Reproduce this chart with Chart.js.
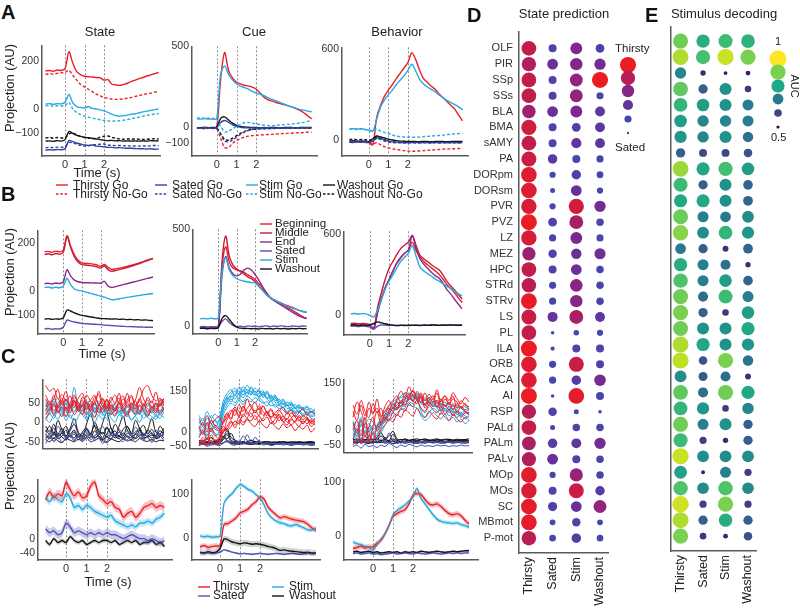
<!DOCTYPE html>
<html><head><meta charset="utf-8">
<script src="https://cdn.jsdelivr.net/npm/chart.js@4.4.1/dist/chart.umd.min.js"></script>
<style>
html,body{margin:0;padding:0;background:#fff;}
#root{position:relative;width:800px;height:609px;overflow:hidden;background:#fff;}
#root canvas{position:absolute;}
.t{position:absolute;white-space:nowrap;color:#222;}
</style></head><body><div id="root"></div>
<script>
// ---------------- DATA ----------------
const tAxis = [-1,-0.8,-0.6,-0.4,-0.2,0,0.2,0.4,0.6,0.8,1,1.2,1.4,1.6,1.8,2,2.2,2.4,2.6,2.8,3,3.2,3.4,3.6,3.8,4,4.2,4.4,4.6,4.8];
const markTimes = [0, 1, 2];

// Panel A - State
const aStateThirstyGo   = [158,160,157,162,160,168,238,190,155,143,136,134,133,131,130,120,122,104,100,98,102,107,115,120,126,131,137,142,147,152];
const aStateThirstyNoGo = [143,147,145,148,150,152,160,140,120,102,92,82,72,62,54,48,44,41,40,40,42,45,48,52,56,60,63,66,70,73];
const aStateSatedGo     = [-172,-170,-171,-169,-170,-166,-132,-136,-142,-146,-150,-152,-150,-155,-156,-158,-160,-160,-162,-161,-163,-164,-164,-165,-166,-166,-167,-166,-168,-167];
const aStateSatedNoGo   = [-162,-160,-161,-159,-160,-156,-140,-141,-147,-152,-155,-154,-150,-149,-147,-146,-150,-152,-153,-152,-154,-153,-155,-154,-155,-154,-155,-153,-152,-154];
const aStateStimGo      = [20,22,19,22,21,28,60,25,10,6,4,10,2,0,-4,-8,-14,-22,-28,-30,-28,-26,-22,-20,-16,-12,-9,-6,-3,-1];
const aStateStimNoGo    = [12,14,11,13,12,14,28,0,-15,-24,-30,-34,-38,-42,-45,-48,-50,-51,-50,-49,-47,-44,-41,-37,-34,-30,-27,-24,-21,-19];
const aStateWashGo      = [-134,-133,-135,-132,-134,-128,-94,-102,-110,-114,-118,-120,-122,-125,-128,-130,-132,-131,-133,-132,-134,-133,-134,-133,-134,-133,-134,-132,-133,-132];
const aStateWashNoGo    = [-121,-118,-122,-119,-121,-120,-104,-100,-108,-115,-119,-121,-124,-122,-118,-114,-113,-118,-123,-125,-126,-125,-126,-125,-126,-127,-126,-125,-124,-125];
// Panel A - Cue
const aCueThirstyGo   = [-4,-3,-5,-4,-3,-2,300,462,350,305,280,268,260,255,248,235,212,185,170,162,153,146,140,134,126,115,104,90,70,52];
const aCueThirstyNoGo = [-8,-6,-9,-7,-8,-10,-70,-125,-125,-100,-82,-70,-60,-55,-52,-50,-48,-46,-45,-44,-42,-40,-39,-38,-37,-35,-34,-33,-31,-30];
const aCueSatedGo     = [-5,-6,-4,-5,-6,-2,30,42,30,15,6,0,-3,-4,-5,-4,-5,-4,-3,-5,-4,-3,-4,-5,-3,-4,-5,-3,-4,-3];
const aCueSatedNoGo   = [-5,-6,-4,-5,-6,-8,-45,-85,-90,-78,-62,-45,-30,-20,-14,-10,-9,-8,-8,-7,-7,-6,-6,-5,-5,-5,-4,-5,-4,-4];
const aCueStimGo      = [52,50,54,51,50,52,330,380,325,292,268,255,245,236,222,212,204,195,182,172,163,153,144,133,126,118,110,106,100,96];
const aCueStimNoGo    = [55,60,53,56,54,50,5,-28,-25,-10,5,18,28,30,25,20,15,12,10,10,12,14,16,18,20,22,26,30,36,42];
const aCueWashGo      = [-2,-3,-1,-3,-2,2,55,64,45,25,12,5,2,0,-1,-2,-3,-2,-3,-1,-2,-3,-2,-1,-2,-3,-2,-1,-2,-1];
const aCueWashNoGo    = [-3,-4,-2,-3,-4,-5,-40,-75,-80,-68,-52,-38,-26,-18,-13,-12,-10,-9,-8,-8,-7,-7,-6,-6,-6,-5,-5,-5,-5,-5];
// Panel A - Behavior
const aBehThirstyGo   = [-10,-12,-8,-11,-9,-15,-30,150,230,290,330,365,405,440,475,512,575,530,460,405,380,355,335,305,280,255,230,205,165,128];
const aBehThirstyNoGo = [-12,-10,-14,-11,-13,-18,-25,-15,-30,-42,-50,-56,-60,-64,-68,-70,-72,-71,-70,-68,-66,-64,-62,-60,-58,-57,-56,-55,-54,-53];
const aBehSatedGo     = [-12,-14,-10,-13,-11,-15,-5,15,12,5,-5,-10,-13,-14,-15,-16,-15,-14,-16,-15,-14,-16,-15,-14,-15,-16,-14,-15,-16,-15];
const aBehSatedNoGo   = [-5,-3,-6,-4,-5,-8,-2,12,5,-5,-12,-15,-17,-16,-18,-17,-16,-18,-17,-16,-18,-17,-16,-18,-17,-16,-18,-17,-16,-17];
const aBehStimGo      = [75,77,74,76,72,65,60,140,220,265,300,330,365,395,425,460,500,455,400,370,350,335,320,298,280,262,248,235,220,200];
const aBehStimNoGo    = [72,75,70,74,70,68,62,75,60,52,45,35,28,24,22,20,21,20,22,24,26,28,30,32,34,37,40,42,44,45];
const aBehWashGo      = [-5,-3,-6,-4,-5,-8,10,28,22,15,8,2,-2,-5,-6,-8,-7,-8,-9,-7,-8,-9,-8,-7,-8,-9,-8,-7,-8,-7];
const aBehWashNoGo    = [5,8,3,6,4,0,8,20,12,2,-6,-10,-12,-13,-12,-14,-13,-12,-14,-13,-12,-14,-13,-12,-13,-14,-12,-13,-14,-13];

// Panel B
const bStateBeginning = [163,165,161,166,163,170,230,185,150,128,117,115,114,112,108,103,110,98,90,92,95,98,102,106,110,115,120,126,131,136];
const bStateMiddle    = [152,155,151,156,153,160,228,180,142,120,110,108,106,104,100,95,104,88,82,85,89,93,97,102,107,112,118,124,130,135];
const bStateEnd       = [30,32,29,33,31,38,88,62,45,38,35,34,34,33,33,32,40,20,14,18,22,26,30,34,38,42,46,50,54,58];
const bStateSated     = [-159,-157,-160,-158,-159,-152,-122,-126,-130,-133,-136,-137,-138,-139,-140,-141,-143,-144,-145,-146,-147,-148,-149,-149,-150,-151,-151,-152,-152,-152];
const bStateStim      = [14,16,12,15,13,20,52,25,8,2,0,-5,-9,-13,-18,-22,-26,-32,-37,-36,-33,-30,-27,-25,-22,-20,-17,-15,-13,-11];
const bStateWashout   = [-118,-116,-119,-117,-118,-112,-80,-85,-92,-98,-102,-105,-108,-110,-113,-115,-116,-117,-118,-117,-119,-118,-120,-119,-121,-120,-122,-121,-123,-124];
const bCueBeginning = [-7,-5,-8,-6,-7,-5,300,410,330,300,291,285,278,265,255,241,220,200,175,150,138,128,120,112,105,98,90,82,76,72];
const bCueMiddle    = [-10,-8,-11,-9,-10,-6,330,465,360,315,295,282,270,255,245,230,208,188,165,148,135,124,114,104,94,84,72,60,48,39];
const bCueEnd       = [-8,-6,-9,-7,-8,-5,260,360,300,270,260,268,290,300,290,266,238,205,175,150,135,122,110,98,86,74,62,52,45,42];
const bCueSated     = [-3,-1,-4,-2,-3,0,25,38,20,5,-2,0,-3,2,-1,1,-3,0,2,-2,1,-1,2,0,-2,1,0,-1,1,0];
const bCueStim      = [39,40,38,41,39,42,280,355,290,260,245,238,232,228,225,224,205,185,165,150,138,128,118,108,100,95,88,82,76,72];
const bCueWashout   = [-12,-10,-13,-11,-12,-8,40,55,35,12,-5,-10,-12,-11,-13,-12,-14,-11,-13,-12,-14,-11,-13,-12,-14,-12,-13,-11,-13,-12];
const bBehBeginning = [-72,-70,-74,-71,-73,-78,-95,30,130,210,266,330,385,425,460,483,543,480,435,400,375,352,330,305,270,230,200,170,130,96];
const bBehMiddle    = [-60,-58,-62,-59,-61,-70,-97,60,170,270,350,400,450,495,520,543,592,520,447,420,399,375,355,338,300,254,220,190,155,121];
const bBehEnd       = [-75,-73,-77,-74,-76,-80,-100,20,120,200,266,330,390,430,460,483,592,500,420,380,350,320,295,278,240,193,160,120,85,48];
const bBehSated     = [-80,-78,-82,-79,-81,-85,-100,-80,-70,-72,-75,-73,-76,-74,-72,-75,-73,-71,-74,-70,-72,-68,-71,-73,-70,-72,-69,-71,-70,-72];
const bBehStim      = [12,14,10,13,11,0,-12,40,120,200,254,300,350,400,430,459,519,440,360,330,310,290,270,254,235,217,200,180,162,145];
const bBehWashout   = [-72,-70,-74,-71,-73,-70,-60,-48,-55,-62,-68,-72,-74,-73,-75,-72,-74,-73,-75,-72,-74,-73,-71,-74,-72,-73,-71,-72,-74,-72];

// Panel C top - single-session traces
const cStateRed = [
 [95,80,88,60,72,55,68,40,62,75,50,58,70,45,62,38,55,70,48,60,52,66,42,58,85,95,70,55,62,50],
 [40,55,30,48,62,35,50,70,45,30,52,40,65,48,35,58,42,30,55,68,40,50,35,62,45,58,38,50,42,55],
 [20,35,48,25,40,15,38,52,28,45,20,35,50,25,42,55,30,18,40,28,50,35,22,45,30,15,38,25,48,30],
 [60,45,70,38,55,80,42,58,35,65,48,30,55,72,40,60,35,50,62,45,75,40,58,90,60,42,55,35,48,62],
 [10,28,45,30,15,40,25,55,35,20,48,30,12,38,25,45,20,35,50,28,15,40,30,22,45,35,25,50,20,38],
 [70,50,62,85,45,60,38,65,52,40,70,55,45,80,50,35,65,48,75,40,58,70,45,55,40,65,50,78,45,60],
 [30,48,20,40,55,28,45,20,38,58,32,48,25,42,60,30,45,28,52,35,20,45,55,30,48,25,40,30,58,42]];
const cStateCyan = [
 [50,35,60,42,30,55,45,90,40,52,35,48,30,55,40,28,45,35,50,25,40,32,45,28,38,50,30,42,55,60],
 [20,38,25,45,30,15,40,28,50,35,20,42,30,18,35,25,40,22,30,15,28,35,20,30,25,15,28,20,32,25],
 [35,20,42,28,50,35,25,40,30,45,28,15,38,25,42,30,20,35,25,40,22,30,18,28,35,20,30,15,25,35],
 [5,22,10,30,18,35,12,25,40,20,8,28,15,35,22,10,25,15,30,12,20,5,18,25,10,22,15,8,20,12],
 [45,30,55,25,40,60,35,48,28,42,55,38,25,45,32,50,28,40,35,22,45,30,38,20,35,28,42,30,25,40],
 [28,45,18,38,25,48,30,55,35,22,40,28,50,32,18,42,30,48,20,35,28,40,25,45,30,18,35,45,28,50],
 [10,0,18,8,25,5,20,-5,15,30,10,22,0,18,8,28,12,0,20,10,25,8,15,0,22,12,5,18,10,28],
 [55,40,48,62,35,50,42,58,30,48,40,55,35,45,28,40,52,30,45,38,25,48,35,42,30,50,38,25,45,55]];
const cStateBlue = [
 [-45,-30,-50,-38,-25,-42,-35,-48,-30,-40,-20,-45,-35,-28,-42,-50,-32,-40,-25,-38,-45,-30,-42,-35,-28,-40,-48,-35,-30,-42],
 [-55,-40,-48,-35,-52,-42,-30,-45,-38,-50,-40,-32,-48,-40,-55,-38,-45,-30,-42,-50,-35,-48,-40,-30,-45,-38,-52,-40,-35,-48],
 [-30,-20,-35,-10,-28,-38,-22,-5,-30,-40,-15,-28,-35,-20,-10,-32,-25,-40,-18,-30,-22,-35,-12,-28,-38,-25,-30,-20,-35,-28]];
const cStateBlack = [
 [-40,-35,-42,-30,-38,-45,-35,-40,-32,-42,-38,-30,-40,-35,-45,-38,-32,-40,-36,-42,-35,-40,-30,-38,-42,-35,-40,-38,-32,-40],
 [-25,-10,-30,5,-20,-35,-15,10,-25,-35,-5,20,-10,-30,0,25,-15,-35,-10,15,-20,-30,5,-15,-35,-20,10,-25,-30,-15],
 [-45,-50,-40,-48,-52,-42,-46,-50,-44,-48,-40,-50,-46,-42,-48,-52,-44,-47,-50,-43,-48,-45,-50,-42,-47,-49,-44,-50,-46,-48],
 [-20,-30,-15,-35,-25,-10,-30,-20,-38,-25,-15,-32,0,-20,-30,-12,-28,-22,-35,-18,-10,-30,-25,-15,-32,-20,-28,-35,-22,-30],
 [-35,-42,-30,-38,-28,-40,-34,-25,-38,-44,-30,-36,-40,-32,-26,-38,-42,-30,-35,-40,-28,-36,-42,-34,-30,-38,-33,-41,-36,-32],
 [-30,-40,-25,-42,-35,-20,-38,-30,-45,-28,-35,-40,-22,-38,-45,-30,-15,-35,-42,-28,-38,-45,-30,-20,-40,-35,-28,-42,-38,-25],
 [-10,-25,-5,-30,-15,-35,-20,-5,-28,-38,-18,-30,-8,-25,-40,-15,-30,-5,-22,-35,-12,-28,-40,-20,-8,-30,-18,-35,-10,-25]];
const cCueRed = [
 [-40,-20,-45,-10,-30,-20,40,70,50,85,60,90,75,55,80,60,95,70,50,65,40,58,35,50,62,45,30,50,38,45],
 [10,30,0,45,20,5,30,55,80,60,100,75,120,90,70,85,60,75,55,70,80,60,45,70,55,40,60,48,35,50],
 [-50,-35,-48,-30,-45,-40,0,20,40,25,55,35,50,70,45,60,40,55,30,45,60,35,50,25,40,55,30,45,20,35],
 [50,25,60,30,45,55,35,65,45,80,55,95,65,85,110,80,95,70,85,60,75,90,65,80,55,70,85,60,75,65],
 [-20,5,-30,15,-10,-25,20,10,35,15,40,25,45,30,20,40,25,15,35,20,10,30,15,25,5,20,10,25,0,15],
 [20,-10,35,0,25,10,-5,45,70,90,75,55,85,100,70,95,75,60,80,50,65,45,70,55,35,60,45,55,30,40],
 [-35,-45,-20,-40,-30,-45,10,5,20,40,30,65,50,40,60,35,50,70,45,30,55,40,25,45,35,20,40,30,45,25]];
const cCueCyan = [
 [30,50,20,60,40,35,110,140,155,130,165,145,170,150,135,155,125,140,115,125,100,115,95,105,85,95,80,90,70,85],
 [0,20,-10,25,10,5,80,115,130,120,140,125,145,135,150,125,140,120,130,110,95,105,85,90,75,80,65,75,60,70],
 [60,40,75,50,65,55,95,125,110,135,120,150,130,160,140,130,145,120,110,125,105,90,100,80,90,70,85,65,75,60],
 [-20,0,-15,10,-5,-10,70,100,120,105,125,110,130,120,105,125,110,95,115,90,100,80,70,85,65,75,55,65,50,45],
 [20,35,10,40,25,15,90,130,145,160,140,165,150,140,160,145,130,150,125,135,110,120,100,110,90,100,85,95,75,80],
 [40,20,50,30,15,45,100,120,135,150,135,155,140,165,145,150,135,145,120,130,115,100,110,95,100,85,90,80,85,70],
 [-10,10,-25,5,-15,0,60,90,105,95,115,100,120,110,125,115,105,110,95,100,85,90,75,80,70,75,60,65,55,60],
 [15,-5,30,10,45,20,85,110,125,140,150,135,155,145,135,140,150,125,135,115,120,105,95,100,85,90,80,70,75,65]];
const cCueBlue = [
 [-45,-40,-48,-42,-46,-44,-40,-35,-42,-30,-38,-15,-30,-40,-20,-35,-42,-38,-44,-40,-46,-42,-45,-40,-44,-42,-46,-43,-45,-42],
 [-50,-45,-52,-48,-46,-50,-42,-30,-45,-48,-40,-44,-10,-35,-45,-30,-48,-44,-50,-46,-42,-48,-45,-50,-46,-44,-48,-46,-50,-47],
 [-40,-30,-45,-35,-42,-38,-25,-5,-30,-40,-35,-42,-38,-44,-40,-36,-42,-45,-40,-44,-42,-40,-44,-42,-46,-44,-42,-45,-43,-44]];
const cCueBlack = [
 [-40,-42,-38,-41,-39,-40,-30,-10,-35,-38,-40,-42,-39,-41,-40,-38,-41,-40,-42,-39,-41,-40,-38,-41,-40,-42,-40,-39,-41,-40],
 [-35,-30,-38,-20,-36,-32,0,10,-20,-30,-35,-38,-36,-30,-35,-38,-36,-35,-37,-36,-38,-35,-37,-36,-38,-35,-37,-36,-35,-38],
 [-45,-44,-46,-43,-45,-44,-40,-35,-42,-44,-45,-43,-44,-46,-44,-45,-43,-44,-46,-45,-44,-43,-45,-44,-46,-44,-45,-43,-44,-45],
 [-30,-38,-25,-40,-33,-28,-15,-25,-5,-30,-38,-35,-40,-30,-38,-35,-40,-36,-38,-40,-35,-38,-40,-37,-39,-38,-40,-38,-37,-39],
 [-42,-38,-44,-40,-43,-41,-20,-30,-38,-42,-40,-38,-41,-43,-39,-42,-40,-41,-43,-40,-42,-39,-41,-43,-40,-42,-41,-39,-42,-40],
 [-38,-40,-35,-39,-37,-36,-25,5,-30,-35,-38,-40,-37,-39,-36,-40,-38,-37,-39,-38,-40,-37,-39,-38,-36,-39,-38,-40,-37,-39]];
const cBehRed = [
 [40,90,60,30,70,50,100,45,60,80,95,110,85,120,100,130,95,115,80,105,90,120,75,100,85,110,70,95,80,75],
 [-30,0,-40,20,-10,-35,10,30,50,70,60,90,75,100,115,90,125,100,80,95,110,85,100,75,90,65,85,70,60,55],
 [20,-10,30,-20,10,40,-5,20,40,30,55,45,70,60,85,75,95,70,60,80,65,55,75,50,65,45,60,40,55,50],
 [60,30,80,45,90,55,70,40,75,95,70,100,125,105,140,110,100,120,95,115,100,130,90,110,95,120,100,85,105,90],
 [-50,-30,-45,-20,-40,-10,-30,0,15,35,25,50,40,65,55,45,70,50,40,60,45,35,55,40,30,50,35,25,40,30],
 [80,50,95,60,40,85,55,70,30,60,85,70,95,80,110,125,105,90,120,85,100,75,95,110,80,100,90,70,85,65],
 [0,30,-20,40,-35,10,60,20,35,50,70,65,90,80,100,95,85,110,70,90,75,95,60,80,65,85,55,75,60,50]];
const cBehCyan = [
 [10,-20,20,-10,5,-15,0,20,45,60,75,90,85,105,95,115,100,90,85,95,80,75,70,80,65,70,60,55,65,60],
 [-30,-10,-35,0,-20,-30,-15,5,30,45,60,70,80,95,110,100,120,85,105,80,90,70,85,60,75,55,65,50,60,45],
 [30,10,40,20,35,25,10,30,50,55,70,65,80,75,90,85,95,60,40,55,70,60,50,65,45,55,40,50,35,45],
 [-10,-35,0,-25,-5,-20,-30,-10,15,30,40,55,65,70,80,75,70,45,30,40,55,45,35,50,30,40,25,35,20,30],
 [20,0,30,10,-5,15,5,25,40,65,80,95,105,110,120,105,115,100,95,105,90,85,80,90,75,80,70,75,65,70],
 [0,-25,15,-15,10,-5,-20,10,35,55,70,80,95,100,105,110,95,70,55,75,85,70,60,70,55,60,50,45,55,50],
 [-20,5,-30,-5,-25,-10,5,15,25,45,55,75,70,90,100,95,105,85,80,90,75,80,65,70,60,65,50,55,45,40],
 [25,-5,35,5,20,0,15,40,60,75,90,100,110,120,115,125,110,105,95,100,90,95,85,80,85,75,80,70,75,65]];
const cBehBlue = [
 [-40,-35,-45,-38,-42,-36,-40,-30,-44,-10,-38,-45,-40,-42,-38,-44,-40,-42,-38,-41,-43,-40,-42,-39,-41,-43,-40,-42,-41,-40],
 [-55,-50,-60,-48,-55,-52,-58,-50,-55,-45,-52,-58,-50,-55,-48,-52,-56,-50,-54,-52,-55,-50,-53,-51,-55,-52,-54,-50,-53,-52],
 [-35,-45,-30,-42,-38,-45,-32,-40,-36,-42,-35,-40,-44,-38,-42,-40,-44,-38,-42,-40,-38,-42,-40,-44,-40,-42,-38,-40,-42,-40]];
const cBehBlack = [
 [-38,-40,-36,-39,-41,-38,-40,-35,-38,-40,-37,-39,-41,-38,-40,-39,-37,-40,-38,-39,-41,-38,-40,-39,-38,-40,-39,-38,-40,-39],
 [-32,-35,-30,-34,-31,-33,-25,-10,-28,-20,-5,-30,-33,-31,-34,-32,-30,-33,-31,-34,-32,-30,-33,-31,-32,-34,-31,-33,-32,-30],
 [-42,-44,-40,-43,-45,-41,-43,-40,-44,-42,-45,-43,-41,-44,-42,-43,-45,-42,-44,-41,-43,-42,-44,-43,-41,-44,-42,-43,-44,-42],
 [-28,-36,-30,-38,-20,-34,-30,-38,-32,-36,-15,-34,-38,-30,-36,-34,-38,-32,-36,-35,-37,-34,-36,-38,-35,-37,-34,-36,-35,-37],
 [-40,-42,-38,-41,-43,-40,-39,-42,-25,-40,-38,-42,-40,-41,-39,-42,-40,-43,-41,-40,-42,-39,-41,-40,-42,-41,-39,-42,-40,-41],
 [-34,-30,-36,-32,-35,-31,-34,-20,-33,-36,-30,-35,-32,-34,-36,-31,-35,-33,-30,-34,-36,-32,-35,-33,-31,-34,-36,-33,-32,-35]];

// Panel C bottom - means and s.e.m.
const cMeanState = {
  thirsty: [20,24,21,23,22,29,25,22,24,21,22,27,29,22,20,18,19,16,15,11,13,14,11,13,16,17,18,16,17,16],
  stim:    [21,19,22,20,19,23,21,16,17,15,17,16,14,13,12,11,12,9,8,7,6,7,6,8,8,9,8,10,11,13],
  sated:   [5,3,4,2,3,8,6,3,4,3,2,3,2,3,2,3,2,2,1,0,1,2,1,0,0,-1,0,-1,-2,-1],
  washout: [-1,-3,0,-2,-1,-2,1,-1,-2,-1,-3,-2,-1,-2,-1,-1,-2,-1,-3,-2,-1,-2,-1,-3,-2,-2,-1,-3,-2,-4]};
const cMeanCue = {
  thirsty: [-21,-18,-22,-20,-19,-18,30,32,38,45,56,60,65,75,82,93,88,70,60,52,45,48,45,42,40,38,36,30,22,16],
  stim:    [4,2,3,1,2,3,78,92,100,112,121,117,110,106,98,90,75,55,45,38,34,32,28,27,30,26,22,18,17,22],
  sated:   [-35,-36,-34,-36,-35,-33,-28,-30,-33,-35,-37,-36,-37,-38,-37,-36,-37,-38,-37,-36,-37,-38,-37,-36,-37,-38,-37,-36,-37,-36],
  washout: [-33,-35,-32,-34,-33,-25,-3,-5,-10,-12,-14,-12,-13,-15,-14,-15,-17,-20,-22,-25,-29,-28,-30,-31,-32,-33,-34,-33,-35,-35]};
const cMeanBeh = {
  thirsty: [-22,-20,-18,-21,-19,-19,-12,-7,5,20,37,42,46,49,60,76,79,77,68,60,58,60,55,48,42,40,42,38,30,23],
  stim:    [-10,-13,-15,-18,-20,-25,-15,-5,5,20,40,48,53,58,65,73,88,70,60,50,40,32,28,26,25,24,25,22,20,17],
  sated:   [-31,-30,-32,-31,-30,-32,-31,-33,-32,-31,-30,-32,-31,-30,-31,-32,-30,-31,-32,-31,-30,-31,-32,-31,-30,-31,-30,-31,-30,-30],
  washout: [-28,-27,-29,-28,-27,-29,-28,-30,-29,-28,-29,-28,-30,-28,-29,-28,-29,-27,-28,-29,-28,-27,-28,-29,-28,-27,-28,-27,-26,-26]};
const cSemState = {thirsty: 2.2, stim: 1.8, sated: 2.2, washout: 1.2};
const cSemCue   = {thirsty: 6, stim: 5, sated: 2, washout: 7};
const cSemBeh   = {thirsty: 5, stim: 4, sated: 2, washout: 2};

// Tick values and labels
const yTicksAState = [-100, 0, 200], yLabelsAState = ['\u2212100', '0', '200'];
const yTicksACue   = [-100, 0, 500], yLabelsACue   = ['\u2212100', '0', '500'];
const yTicksABeh   = [0, 600],       yLabelsABeh   = ['0', '600'];
const yTicksBState = [-100, 0, 200], yLabelsBState = ['\u2212100', '0', '200'];
const yTicksBCue   = [0, 500],       yLabelsBCue   = ['0', '500'];
const yTicksBBeh   = [0, 600],       yLabelsBBeh   = ['0', '600'];
const yTicksCTL = [-50, 0, 50],   yLabelsCTL = ['-50', '0', '50'];
const yTicksCTM = [-50, 0, 150],  yLabelsCTM = ['\u221250', '0', '150'];
const yTicksCTR = [-50, 0, 150],  yLabelsCTR = ['\u221250', '0', '150'];
const yTicksCBL = [-7.5, 0, 20],  yLabelsCBL = ['-40', '0', '20'];
const yTicksCBM = [0, 100],       yLabelsCBM = ['0', '100'];
const yTicksCBR = [0, 100],       yLabelsCBR = ['0', '100'];

// Panels D & E
const regions = ['OLF','PIR','SSp','SSs','BLA','BMA','sAMY','PA','DORpm','DORsm','PVR','PVZ','LZ','MEZ','HPC','STRd','STRv','LS','PL','ILA','ORB','ACA','AI','RSP','PALd','PALm','PALv','MOp','MOs','SC','MBmot','P-mot'];
const states = ['Thirsty','Sated','Stim','Washout'];
const predThirsty = [0.85,0.80,0.85,0.85,0.72,0.90,0.85,0.88,0.95,0.95,0.93,1.0,0.92,0.70,0.85,0.82,0.98,0.88,0.85,1.0,0.95,0.95,1.0,0.80,0.85,0.75,0.78,0.97,0.93,0.97,0.97,0.82];
const predSated   = [0.25,0.45,0.25,0.25,0.45,0.25,0.25,0.35,0.15,0.10,0.15,0.30,0.20,0.28,0.25,0.20,0.20,0.40,0.05,0.07,0.20,0.20,0.05,0.28,0.10,0.35,0.45,0.15,0.25,0.33,0.13,0.17];
const predStim    = [0.55,0.60,0.65,0.65,0.55,0.30,0.40,0.25,0.35,0.45,0.90,0.75,0.55,0.42,0.45,0.62,0.60,0.75,0.12,0.25,0.88,0.35,0.97,0.10,0.22,0.38,0.25,0.68,0.88,0.45,0.28,0.35];
const predWashout = [0.30,0.50,1.0,0.20,0.38,0.38,0.38,0.20,0.18,0.15,0.50,0.22,0.20,0.48,0.22,0.22,0.22,0.38,0.15,0.25,0.25,0.52,0.25,0.05,0.22,0.50,0.22,0.22,0.35,0.65,0.13,0.17];
const aucThirsty = [0.89,0.94,0.725,0.875,0.825,0.775,0.76,0.65,0.925,0.84,0.80,0.885,0.91,0.70,0.81,0.86,0.89,0.90,0.89,0.94,0.95,0.74,0.875,0.825,0.89,0.84,0.96,0.785,0.86,0.965,0.94,0.90];
const aucSated   = [0.81,0.85,0.55,0.65,0.775,0.725,0.725,0.61,0.80,0.65,0.80,0.71,0.74,0.65,0.71,0.71,0.675,0.65,0.75,0.80,0.625,0.64,0.675,0.76,0.71,0.59,0.74,0.525,0.735,0.59,0.65,0.575];
const aucStim    = [0.84,0.96,0.525,0.75,0.75,0.725,0.75,0.61,0.85,0.75,0.75,0.70,0.825,0.56,0.675,0.775,0.84,0.575,0.75,0.75,0.90,0.675,0.89,0.575,0.75,0.55,0.74,0.71,0.86,0.90,0.81,0.54];
const aucWashout = [0.82,0.90,0.54,0.575,0.71,0.71,0.69,0.625,0.775,0.66,0.665,0.74,0.76,0.665,0.55,0.66,0.71,0.775,0.80,0.76,0.69,0.56,0.80,0.725,0.65,0.65,0.74,0.59,0.735,0.59,0.65,0.625];
const predLegend = [1, 0.8, 0.6, 0.4, 0.2, 0];
const aucLegend  = [1, 0.9, 0.8, 0.7, 0.6, 0.5];

// ---------------- STYLE / HELPERS ----------------
const FF = '"Liberation Sans", Arial, Helvetica, sans-serif';
const FFN = '"Liberation Sans Narrow", "Liberation Sans", Arial, sans-serif';
const AX = '#5a5a5a';
const RED = '#ec1f27', CYAN = '#27a9e1', BLUEA = '#34449e', BLACK = '#151515';
const BEG = '#ee1d25', MID = '#c41e3a', END = '#8a2b8e', SATB = '#6a48b0';
const SATC = '#4a55b5';
Chart.defaults.font.family = FF;
Chart.defaults.color = '#333';

const root = document.getElementById('root');
function mkCanvas(l, t, w, h) {
  const c = document.createElement('canvas');
  c.width = w; c.height = h;
  c.style.left = l + 'px'; c.style.top = t + 'px';
  c.style.width = w + 'px'; c.style.height = h + 'px';
  root.appendChild(c); return c;
}
function txt(s, x, y, o = {}) {
  const fs = o.fs || 12;
  const d = document.createElement('div');
  d.className = 't'; d.textContent = s;
  d.style.font = (o.w || 'normal') + ' ' + fs + 'px ' + (o.ff || FF);
  d.style.lineHeight = fs + 'px';
  if (o.c) d.style.color = o.c;
  d.style.top = (y - 0.8465 * fs) + 'px';
  d.style.left = x + 'px';
  if (o.a === 'c') d.style.transform = 'translateX(-50%)';
  if (o.a === 'r') d.style.transform = 'translateX(-100%)';
  root.appendChild(d);
}
function vtxt(s, cx, cy, fs, deg) {
  const d = document.createElement('div');
  d.className = 't'; d.textContent = s;
  d.style.font = fs + 'px ' + FF; d.style.lineHeight = fs + 'px';
  d.style.left = cx + 'px'; d.style.top = cy + 'px';
  d.style.transform = 'translate(-50%,-50%) rotate(' + deg + 'deg)';
  root.appendChild(d);
}

const vlines = {
  id: 'vlines',
  beforeDatasetsDraw(chart) {
    const xs = chart.scales.x, a = chart.chartArea, ctx = chart.ctx;
    ctx.save();
    ctx.strokeStyle = '#8c8c8c'; ctx.lineWidth = 1; ctx.setLineDash([2, 2]);
    markTimes.forEach(v => {
      const px = Math.round(xs.getPixelForValue(v)) + 0.5;
      ctx.beginPath(); ctx.moveTo(px, a.top); ctx.lineTo(px, a.bottom); ctx.stroke();
    });
    ctx.restore();
  }
};

function ser(vals, color, o = {}) {
  return Object.assign({
    data: tAxis.map((t, i) => ({ x: t, y: vals[i] })),
    borderColor: color, borderWidth: 1.4, pointRadius: 0, fill: false, tension: 0.3
  }, o);
}
function dashed(vals, color) { return ser(vals, color, { borderDash: [3, 2] }); }
function band(vals, sem, fillColor) {
  return [
    { data: tAxis.map((t, i) => ({ x: t, y: vals[i] + sem })), borderWidth: 0, pointRadius: 0, fill: '+1', backgroundColor: fillColor, tension: 0.3 },
    { data: tAxis.map((t, i) => ({ x: t, y: vals[i] - sem })), borderWidth: 0, pointRadius: 0, fill: false, tension: 0.3 }
  ];
}
function traces(list, color) { return list.map(v => ser(v, color, { borderWidth: 1, tension: 0.35 })); }
function meanSet(m, s) {
  return [
    ...band(m.thirsty, s.thirsty, 'rgba(236,31,39,0.28)'),
    ...band(m.stim, s.stim, 'rgba(39,169,225,0.28)'),
    ...band(m.sated, s.sated, 'rgba(90,85,185,0.3)'),
    ...band(m.washout, s.washout, 'rgba(0,0,0,0.18)'),
    ser(m.washout, BLACK), ser(m.sated, SATC), ser(m.stim, CYAN), ser(m.thirsty, RED)
  ];
}

function lineChart(b, xr, yr, yt, yl, xh, ds) {
  const YW = 32, PT = 7, PR = 3;
  const cv = mkCanvas(b.l - YW, b.t - PT, b.w + YW + PR, b.h + PT + xh);
  new Chart(cv, {
    type: 'line',
    data: { datasets: ds },
    options: {
      responsive: false, animation: false, devicePixelRatio: 1, events: [],
      layout: { padding: { top: PT, right: PR, left: 0, bottom: 0 } },
      plugins: { legend: { display: false }, tooltip: { enabled: false } },
      scales: {
        x: { type: 'linear', min: xr[0], max: xr[1],
          grid: { display: false, drawTicks: false },
          border: { display: true, color: AX, width: 1.5 },
          ticks: { display: xh > 6, font: { size: 11 }, color: '#333', padding: 2, autoSkip: false, maxRotation: 0 },
          afterBuildTicks: s => { s.ticks = markTimes.map(v => ({ value: v })); },
          afterFit: s => { s.height = xh; } },
        y: { type: 'linear', min: yr[0], max: yr[1],
          grid: { display: false, drawTicks: false },
          border: { display: true, color: AX, width: 1.5 },
          ticks: { font: { size: 10.5 }, color: '#333', padding: 3, autoSkip: false,
            callback: v => yl[yt.indexOf(v)] },
          afterBuildTicks: s => { s.ticks = yt.map(v => ({ value: v })); },
          afterFit: s => { s.width = YW; } }
      }
    },
    plugins: [vlines]
  });
}

function lerpStops(stops, v) {
  v = Math.max(0, Math.min(1, v));
  for (let k = 1; k < stops.length; k++) {
    if (v <= stops[k][0]) {
      const [p0, c0] = stops[k - 1], [p1, c1] = stops[k];
      const f = (v - p0) / (p1 - p0);
      return 'rgb(' + c0.map((c, i) => Math.round(c + (c1[i] - c) * f)).join(',') + ')';
    }
  }
  return 'rgb(' + stops[stops.length - 1][1].join(',') + ')';
}
const predStops = [[0,[58,77,176]],[0.3,[78,66,168]],[0.45,[106,47,152]],[0.6,[133,38,138]],[0.75,[168,31,100]],[0.88,[201,30,66]],[1,[236,28,36]]];
const viridis = [[0,[68,1,84]],[0.1,[72,36,117]],[0.2,[65,68,135]],[0.3,[53,95,141]],[0.4,[42,120,142]],[0.5,[33,145,140]],[0.6,[34,168,132]],[0.7,[68,191,112]],[0.8,[122,209,81]],[0.9,[189,223,38]],[1,[253,231,37]]];
const predColor = v => lerpStops(predStops, v);
const predR = v => Math.max(1.2, 8 * Math.sqrt(v));
const aucColor = a => lerpStops(viridis, (a - 0.5) / 0.5);
const aucR = a => Math.max(1.6, 8.5 * Math.sqrt(Math.max(0, (a - 0.5) / 0.5)));

function bubbleChart(b, xr, yr, showY, cols, colorFn, rFn) {
  const YW = showY ? 60 : 4, PT = 4, PR = 10, XH = 54;
  const cv = mkCanvas(b.l - YW, b.t - PT, b.w + YW + PR, b.h + PT + XH);
  new Chart(cv, {
    type: 'bubble',
    data: { datasets: cols.map((vals, j) => ({
      data: vals.map((v, i) => ({ x: j, y: i, r: rFn(v) })),
      backgroundColor: vals.map(colorFn), borderWidth: 0, hoverRadius: 0, clip: false })) },
    options: {
      responsive: false, animation: false, devicePixelRatio: 1, events: [],
      layout: { padding: { top: PT, right: PR, left: 0, bottom: 0 } },
      plugins: { legend: { display: false }, tooltip: { enabled: false } },
      scales: {
        x: { type: 'linear', min: xr[0], max: xr[1],
          grid: { display: false, drawTicks: false },
          border: { display: true, color: AX, width: 1.5 },
          ticks: { font: { size: 12.5 }, color: '#222', padding: 4, autoSkip: false, minRotation: 90, maxRotation: 90,
            callback: v => states[v] },
          afterBuildTicks: s => { s.ticks = states.map((_, j) => ({ value: j })); },
          afterFit: s => { s.height = XH; } },
        y: { type: 'linear', reverse: true, min: yr[0], max: yr[1],
          grid: { display: false, drawTicks: false },
          border: { display: true, color: AX, width: 1.5 },
          ticks: { display: showY, font: { size: 11 }, color: '#333', padding: 6, autoSkip: false,
            callback: v => regions[v] },
          afterBuildTicks: s => { s.ticks = regions.map((_, i) => ({ value: i })); },
          afterFit: s => { s.width = YW; } }
      }
    }
  });
}

// ---------------- PANEL A ----------------
lineChart({l:42,t:43,w:118,h:113}, [-1.18,4.87], [-196,265], yTicksAState, yLabelsAState, 16, [
  ser(aStateStimGo, CYAN), dashed(aStateStimNoGo, CYAN),
  ser(aStateSatedGo, BLUEA), dashed(aStateSatedNoGo, BLUEA),
  ser(aStateWashGo, BLACK), dashed(aStateWashNoGo, BLACK),
  ser(aStateThirstyGo, RED), dashed(aStateThirstyNoGo, RED)]);
lineChart({l:192,t:44,w:125,h:112}, [-1.25,5.07], [-178,501], yTicksACue, yLabelsACue, 16, [
  ser(aCueStimGo, CYAN), dashed(aCueStimNoGo, CYAN),
  ser(aCueSatedGo, BLUEA), dashed(aCueSatedNoGo, BLUEA),
  ser(aCueWashGo, BLACK), dashed(aCueWashNoGo, BLACK),
  ser(aCueThirstyGo, RED), dashed(aCueThirstyNoGo, RED)]);
lineChart({l:342,t:45,w:126,h:111}, [-1.38,5.08], [-103,611], yTicksABeh, yLabelsABeh, 16, [
  ser(aBehStimGo, CYAN), dashed(aBehStimNoGo, CYAN),
  ser(aBehSatedGo, BLUEA), dashed(aBehSatedNoGo, BLUEA),
  ser(aBehWashGo, BLACK), dashed(aBehWashNoGo, BLACK),
  ser(aBehThirstyGo, RED), dashed(aBehThirstyNoGo, RED)]);

// ---------------- PANEL B ----------------
lineChart({l:38,t:228,w:116,h:106}, [-1.35,4.85], [-180,253], yTicksBState, yLabelsBState, 16, [
  ser(bStateWashout, BLACK), ser(bStateSated, SATB), ser(bStateStim, CYAN),
  ser(bStateEnd, END), ser(bStateMiddle, MID), ser(bStateBeginning, BEG)]);
lineChart({l:193,t:227,w:114,h:107}, [-1.375,4.82], [-40,500], yTicksBCue, yLabelsBCue, 16, [
  ser(bCueWashout, BLACK), ser(bCueSated, SATB), ser(bCueStim, CYAN),
  ser(bCueEnd, END), ser(bCueMiddle, MID), ser(bCueBeginning, BEG)]);
lineChart({l:344,t:229,w:121,h:106}, [-1.35,4.95], [-145,623], yTicksBBeh, yLabelsBBeh, 16, [
  ser(bBehWashout, BLACK), ser(bBehSated, SATB), ser(bBehStim, CYAN),
  ser(bBehEnd, END), ser(bBehMiddle, MID), ser(bBehBeginning, BEG)]);

// ---------------- PANEL C ----------------
lineChart({l:43,t:377,w:121,h:79}, [-1.13,4.8], [-68,111], yTicksCTL, yLabelsCTL, 2, [
  ...traces(cStateRed, RED), ...traces(cStateCyan, CYAN), ...traces(cStateBlue, SATC), ...traces(cStateBlack, BLACK)]);
lineChart({l:190,t:377,w:128,h:79}, [-1.45,4.95], [-61,192], yTicksCTM, yLabelsCTM, 2, [
  ...traces(cCueRed, RED), ...traces(cCueCyan, CYAN), ...traces(cCueBlue, SATC), ...traces(cCueBlack, BLACK)]);
lineChart({l:344,t:377,w:128,h:83}, [-1.45,4.95], [-75,164], yTicksCTR, yLabelsCTR, 2, [
  ...traces(cBehRed, RED), ...traces(cBehCyan, CYAN), ...traces(cBehBlue, SATC), ...traces(cBehBlack, BLACK)]);
lineChart({l:38,t:477,w:134,h:83}, [-1.37,5.17], [-11,30.5], yTicksCBL, yLabelsCBL, 16, meanSet(cMeanState, cSemState));
lineChart({l:192,t:477,w:128,h:83}, [-1.4,5.0], [-51,133], yTicksCBM, yLabelsCBM, 16, meanSet(cMeanCue, cSemCue));
lineChart({l:344,t:477,w:134,h:83}, [-1.45,5.25], [-43,105], yTicksCBR, yLabelsCBR, 16, meanSet(cMeanBeh, cSemBeh));

// ---------------- PANELS D & E ----------------
bubbleChart({l:519,t:23,w:91,h:530}, [-0.417,3.375], [-1.06,31.94], true,
  [predThirsty, predSated, predStim, predWashout], predColor, predR);
bubbleChart({l:667,t:23,w:91,h:528}, [-0.417,3.375], [-0.87,31.93], false,
  [aucThirsty, aucSated, aucStim, aucWashout], aucColor, aucR);

// ---------------- TEXT ----------------
txt('A', 1, 19, {fs:20, w:'bold', ff:FFN, c:'#111'});
txt('B', 1, 201, {fs:20, w:'bold', ff:FFN, c:'#111'});
txt('C', 1, 363, {fs:20, w:'bold', ff:FFN, c:'#111'});
txt('D', 467, 22, {fs:20, w:'bold', ff:FFN, c:'#111'});
txt('E', 645, 22, {fs:20, w:'bold', ff:FFN, c:'#111'});
txt('State', 100, 36, {fs:13, a:'c'});
txt('Cue', 254, 36, {fs:13, a:'c'});
txt('Behavior', 397, 36, {fs:13, a:'c'});
txt('State prediction', 564, 18, {fs:13, a:'c'});
txt('Stimulus decoding', 724, 18, {fs:13, a:'c'});
vtxt('Projection (AU)', 9, 88, 13, -90);
vtxt('Projection (AU)', 9, 272, 13, -90);
vtxt('Projection (AU)', 9, 466, 13, -90);
txt('Time (s)', 97, 177, {fs:13, a:'c'});
txt('Time (s)', 102, 358, {fs:13, a:'c'});
txt('Time (s)', 108, 586, {fs:13, a:'c'});

// legends
let svg = '<svg width="800" height="609" style="position:absolute;left:0;top:0" xmlns="http://www.w3.org/2000/svg">';
function sl(x1, x2, y, c, d) { svg += `<line x1="${x1}" x2="${x2}" y1="${y}" y2="${y}" stroke="${c}" stroke-width="1.4"${d ? ' stroke-dasharray="2.5,1.8"' : ''}/>`; }
const legA = [[56, 73, 'Thirsty', RED], [155, 172, 'Sated', BLUEA], [246, 259, 'Stim', CYAN], [323, 337, 'Washout', BLACK]];
legA.forEach(([lx, tx, name, c]) => {
  sl(lx, lx + 12, 185, c, false); sl(lx, lx + 12, 194, c, true);
  txt(name + ' Go', tx, 189, {fs:12});
  txt(name + ' No-Go', tx, 198, {fs:12});
});
const legB = [['Beginning', BEG], ['Middle', MID], ['End', END], ['Sated', SATB], ['Stim', CYAN], ['Washout', BLACK]];
legB.forEach(([name, c], i) => { const y = 228 + 9 * i; sl(260, 272, y - 4, c, false); txt(name, 275, y, {fs:11.5}); });
const legC = [[198, 213, 590, 'Thirsty', RED], [198, 213, 599, 'Sated', SATC], [272, 289, 590, 'Stim', CYAN], [272, 289, 599, 'Washout', BLACK]];
legC.forEach(([lx, tx, y, name, c]) => { sl(lx, lx + 12, y - 3, c, false); txt(name, tx, y, {fs:12}); });
const legDY = [65, 78, 91, 105, 119, 133];
predLegend.forEach((v, i) => { svg += `<circle cx="628" cy="${legDY[i]}" r="${predR(v)}" fill="${predColor(v)}"/>`; });
const legEY = [59, 72, 86, 99, 113, 127];
aucLegend.forEach((a, i) => { svg += `<circle cx="778" cy="${legEY[i]}" r="${aucR(a)}" fill="${aucColor(a)}"/>`; });
svg += '</svg>';
root.insertAdjacentHTML('beforeend', svg);
txt('Thirsty', 615, 53, {fs:11.5});
txt('Sated', 615, 152, {fs:11.5});
txt('1', 775, 45, {fs:11});
txt('0.5', 771, 141, {fs:11});
vtxt('AUC', 794, 86, 11, 90);
</script>
</body></html>
